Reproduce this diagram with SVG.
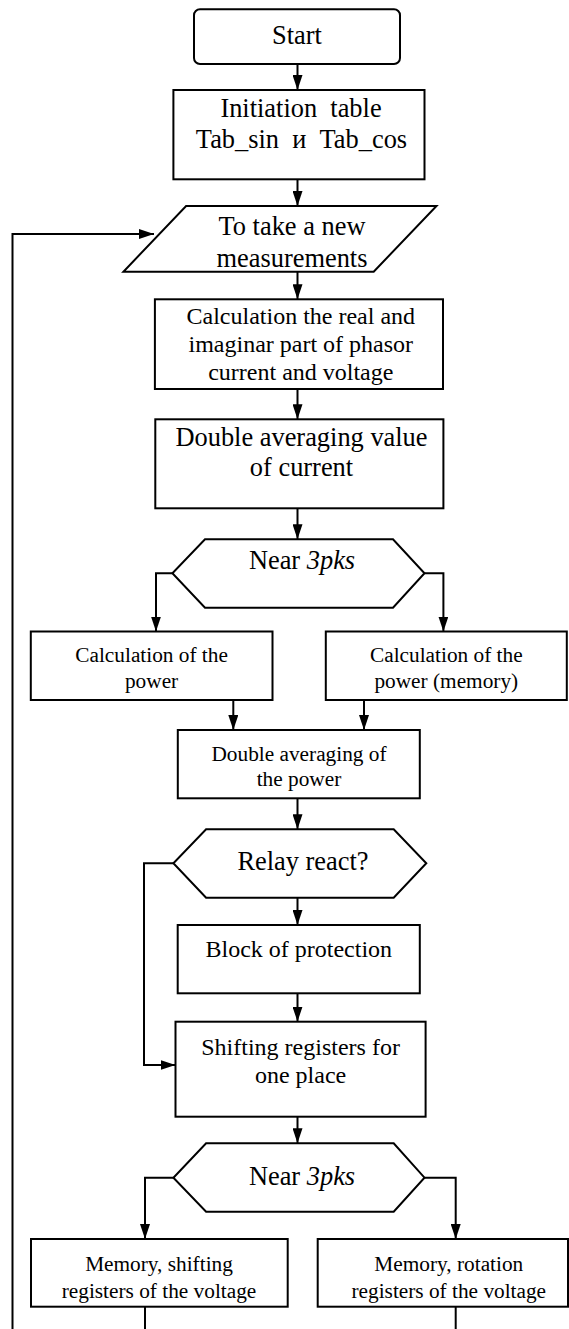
<svg xmlns="http://www.w3.org/2000/svg" width="569" height="1329" viewBox="0 0 569 1329">
<style>
.n{fill:#fff;stroke:#000;stroke-width:2}
.c{fill:none;stroke:#000;stroke-width:2}
text{font-family:"Liberation Serif","Times New Roman",serif;fill:#000;text-anchor:middle}
.l{font-size:26.4px}
.m{font-size:24px}
.s{font-size:21.3px}
</style>
<defs>
<marker id="ah" markerUnits="userSpaceOnUse" markerWidth="15" markerHeight="10" refX="15" refY="5" orient="auto">
<path d="M0,0 L15,5 L0,10 z" fill="#000"/>
</marker>
</defs>
<rect width="569" height="1329" fill="#fff"/>
<g id="connectors">
<path class="c" d="M297.5,64 V90" marker-end="url(#ah)"/>
<path class="c" d="M297.5,179.3 V206" marker-end="url(#ah)"/>
<path class="c" d="M12.5,1329 V234 H154" marker-end="url(#ah)"/>
<path class="c" d="M297.5,271.7 V299.3" marker-end="url(#ah)"/>
<path class="c" d="M297.5,389 V419.3" marker-end="url(#ah)"/>
<path class="c" d="M297.5,508.3 V539.3" marker-end="url(#ah)"/>
<path class="c" d="M172.4,573.3 H156 V631.5" marker-end="url(#ah)"/>
<path class="c" d="M424.5,573.3 H443.4 V631.5" marker-end="url(#ah)"/>
<path class="c" d="M233.3,700 V730" marker-end="url(#ah)"/>
<path class="c" d="M364,700 V730" marker-end="url(#ah)"/>
<path class="c" d="M297.5,798.3 V829.3" marker-end="url(#ah)"/>
<path class="c" d="M173.4,863.3 H144 V1065 H175.5" marker-end="url(#ah)"/>
<path class="c" d="M297.5,897.7 V925" marker-end="url(#ah)"/>
<path class="c" d="M297.5,993.3 V1021.7" marker-end="url(#ah)"/>
<path class="c" d="M297.5,1116.7 V1143.3" marker-end="url(#ah)"/>
<path class="c" d="M173.4,1177.7 H145 V1239" marker-end="url(#ah)"/>
<path class="c" d="M424.5,1177.7 H455.7 V1239" marker-end="url(#ah)"/>
<path class="c" d="M145,1306.7 V1329"/>
<path class="c" d="M455.7,1306.7 V1329"/>
</g>
<g id="start">
<rect class="n" x="194" y="9.3" width="206" height="54.7" rx="6"/>
<text class="l" x="297" y="44">Start</text>
</g>
<g id="init">
<rect class="n" x="173.4" y="90" width="251.1" height="89.3"/>
<text class="l" x="301" y="117.3" xml:space="preserve">Initiation  table</text>
<text class="l" x="301.5" y="148.3" xml:space="preserve">Tab_sin  и  Tab_cos</text>
</g>
<g id="measure">
<polygon class="n" points="186.1,206 436.5,206 373.7,271.7 123.4,271.7"/>
<text class="l" x="292" y="235">To take a new</text>
<text class="l" x="292" y="266.7">measurements</text>
</g>
<g id="calc">
<rect class="n" x="154.9" y="299.3" width="288.1" height="89.7"/>
<text class="m" x="300.8" y="324">Calculation the real and</text>
<text class="m" x="300.8" y="352">imaginar part of phasor</text>
<text class="m" x="300.8" y="380">current and voltage</text>
</g>
<g id="avg-current">
<rect class="n" x="155.3" y="419.3" width="288.1" height="89"/>
<text class="l" x="301.5" y="446">Double averaging value</text>
<text class="l" x="301.5" y="476">of current</text>
</g>
<g id="near1">
<polygon class="n" points="205,539.3 393,539.3 424.5,573.3 393,607.7 205,607.7 172.4,573.3"/>
<text class="l" x="302" y="569">Near <tspan font-style="italic">3pks</tspan></text>
</g>
<g id="power">
<rect class="n" x="30.8" y="631.5" width="241.7" height="68.5"/>
<text class="s" x="151.6" y="662">Calculation of the</text>
<text class="s" x="151.6" y="688">power</text>
</g>
<g id="power-mem">
<rect class="n" x="325.8" y="631.5" width="241" height="68.5"/>
<text class="s" x="446.3" y="662">Calculation of the</text>
<text class="s" x="446.3" y="688">power (memory)</text>
</g>
<g id="avg-power">
<rect class="n" x="177.8" y="730" width="242" height="68.3"/>
<text class="s" x="299" y="761">Double averaging of</text>
<text class="s" x="299" y="786">the power</text>
</g>
<g id="relay">
<polygon class="n" points="206.1,829.3 393.7,829.3 426.3,863.3 393.7,897.7 206.1,897.7 173.4,863.3"/>
<text class="l" x="303" y="870">Relay react?</text>
</g>
<g id="block">
<rect class="n" x="177.7" y="925" width="242.1" height="68.3"/>
<text class="m" x="298.8" y="957">Block of protection</text>
</g>
<g id="shift">
<rect class="n" x="175.5" y="1021.7" width="250.1" height="95"/>
<text class="m" x="300.6" y="1055">Shifting registers for</text>
<text class="m" x="300.6" y="1083">one place</text>
</g>
<g id="near2">
<polygon class="n" points="206.1,1143.3 393.7,1143.3 424.5,1177.7 393.7,1211.7 206.1,1211.7 173.4,1177.7"/>
<text class="l" x="302" y="1184.5">Near <tspan font-style="italic">3pks</tspan></text>
</g>
<g id="mem-shift">
<rect class="n" x="31" y="1239" width="256.7" height="67.7"/>
<text class="s" x="159" y="1270.5">Memory, shifting</text>
<text class="s" x="159" y="1297.5">registers of the voltage</text>
</g>
<g id="mem-rot">
<rect class="n" x="317.7" y="1239" width="250.3" height="67.7"/>
<text class="s" x="448.8" y="1270.5">Memory, rotation</text>
<text class="s" x="448.8" y="1297.5">registers of the voltage</text>
</g>
</svg>
